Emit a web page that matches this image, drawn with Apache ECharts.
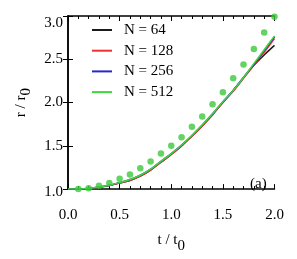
<!DOCTYPE html>
<html>
<head>
<meta charset="utf-8">
<script src="https://cdn.jsdelivr.net/npm/echarts@6/dist/echarts.min.js"></script>
<style>html,body{margin:0;padding:0;background:#fff}#c{width:297px;height:259px}</style>
</head>
<body>
<div id="c"></div>
<script>
var tValues = [0,0.1,0.2,0.3,0.4,0.5,0.6,0.7,0.8,0.9,1.0,1.1,1.2,1.3,1.4,1.5,1.6,1.7,1.8,1.9,2.0];
var seriesNames = ['N = 64','N = 128','N = 256','N = 512'];
var rN64  = [1.0,1.0,1.005,1.02,1.04,1.07,1.10,1.15,1.22,1.31,1.40,1.50,1.61,1.73,1.86,2.00,2.14,2.29,2.43,2.55,2.66];
var rN128 = [1.0,1.0,1.005,1.02,1.04,1.07,1.10,1.15,1.22,1.31,1.40,1.50,1.61,1.73,1.86,2.00,2.13,2.28,2.43,2.58,2.74];
var rN256 = [1.0,1.0,1.01,1.025,1.045,1.075,1.11,1.16,1.23,1.32,1.41,1.51,1.62,1.74,1.87,2.01,2.14,2.29,2.44,2.60,2.76];
var rN512 = [1.0,1.0,1.01,1.025,1.045,1.075,1.11,1.16,1.23,1.32,1.41,1.51,1.62,1.74,1.87,2.01,2.14,2.29,2.45,2.61,2.77];
var tDots = [0.1,0.2,0.3,0.4,0.5,0.6,0.7,0.8,0.9,1.0,1.1,1.2,1.3,1.4,1.5,1.6,1.7,1.8,1.9,2.0];
var rDots = [1.0,1.01,1.04,1.07,1.12,1.17,1.24,1.32,1.41,1.50,1.60,1.72,1.84,1.98,2.12,2.28,2.44,2.62,2.81,2.99];
var xTicks = ['0.0','0.5','1.0','1.5','2.0'];
var yTicks = ['1.0','1.5','2.0','2.5','3.0'];

var colors = ['#1a1a1a','#f03030','#2828c8','#3ed83e'];
var dotColor = '#3cc83c';
var serif = '"Liberation Serif", "DejaVu Serif", serif';

function pairs(xs, ys){ return xs.map(function(x,i){ return [x, ys[i]]; }); }
var lineData = [rN64, rN128, rN256, rN512];

var series = lineData.map(function(arr, i){
  return {
    name: seriesNames[i], type: 'line', data: pairs(tValues, arr),
    symbol: 'none', smooth: 0.3, lineStyle: {color: colors[i], width: 1.5},
    itemStyle: {color: colors[i]}, z: 3 + i
  };
});
series.push({
  type: 'scatter', data: pairs(tDots, rDots), symbolSize: 6.5,
  itemStyle: {color: dotColor}, z: 10
});

var axisLineStyle = {show: true, lineStyle: {color: '#000', width: 1.5}};
var chart = echarts.init(document.getElementById('c'), null, {renderer: 'canvas'});
chart.setOption({
  animation: false,
  backgroundColor: '#fff',
  grid: {left: 68, top: 16, width: 206.5, height: 182},
  title: {text: '(a)', left: 250, top: 177, padding: 0,
    textStyle: {fontFamily: serif, fontSize: 15, fontWeight: 'normal', color: '#000'}},
  legend: {
    orient: 'vertical', left: 87, top: 17, icon: 'rect', itemWidth: 20, itemHeight: 2,
    itemGap: 4.7, data: seriesNames,
    formatter: function(n){ return '{g|}' + n; },
    textStyle: {fontFamily: serif, fontSize: 15, color: '#000', lineHeight: 16,
      rich: {g: {width: 7}}}
  },
  xAxis: [{
    type: 'value', min: 0, max: 2, interval: 0.5, position: 'bottom',
    axisLine: axisLineStyle,
    axisTick: {show: true, inside: true, length: 5, lineStyle: {color: '#000', width: 1}},
    minorTick: {show: true, splitNumber: 5, length: 3, lineStyle: {color: '#000', width: 1}},
    splitLine: {show: false},
    axisLabel: {margin: 18, fontFamily: serif, fontSize: 15, color: '#000',
      formatter: function(v){ var i = Math.round(v/0.5); return xTicks[i] || ''; }},
    name: 't / t{s|0}', nameLocation: 'middle', nameGap: 36,
    nameTextStyle: {fontFamily: serif, fontSize: 15, color: '#000', lineHeight: 27, verticalAlign: 'top',
      rich: {s: {fontFamily: serif, fontSize: 15, color: '#000', lineHeight: 27, verticalAlign: 'bottom'}}}
  }, {
    type: 'value', min: 0, max: 2, interval: 0.5, position: 'top',
    axisLine: axisLineStyle,
    axisTick: {show: true, inside: true, length: 5, lineStyle: {color: '#000', width: 1}},
    minorTick: {show: true, splitNumber: 5, length: 3, lineStyle: {color: '#000', width: 1}},
    splitLine: {show: false}, axisLabel: {show: false}
  }],
  yAxis: [{
    type: 'value', min: 1, max: 3, interval: 0.5, position: 'left',
    axisLine: axisLineStyle,
    axisTick: {show: true, inside: true, length: 5, lineStyle: {color: '#000', width: 1}},
    splitLine: {show: false},
    axisLabel: {margin: 5, fontFamily: serif, fontSize: 15, color: '#000',
      verticalAlignMaxLabel: 'top', verticalAlignMinLabel: 'middle',
      formatter: function(v){ var i = Math.round((v-1)/0.5); var s = yTicks[i] || ''; return i === 0 ? '{lo|' + s + '}' : s; },
      rich: {lo: {fontFamily: serif, fontSize: 15, color: '#000', lineHeight: 15, padding: [6,0,0,0]}}},
    name: 'r / r{s|0}', nameLocation: 'middle', nameGap: 24,
    nameTextStyle: {fontFamily: serif, fontSize: 15, color: '#000', lineHeight: 25, verticalAlign: 'top',
      rich: {s: {fontFamily: serif, fontSize: 15, color: '#000', lineHeight: 25, verticalAlign: 'bottom'}}}
  }, {
    type: 'value', min: 1, max: 3, interval: 0.5, position: 'right',
    axisLine: axisLineStyle,
    axisTick: {show: true, inside: true, length: 5, lineStyle: {color: '#000', width: 1}},
    splitLine: {show: false}, axisLabel: {show: false}
  }],
  series: series
});
</script>
</body>
</html>
